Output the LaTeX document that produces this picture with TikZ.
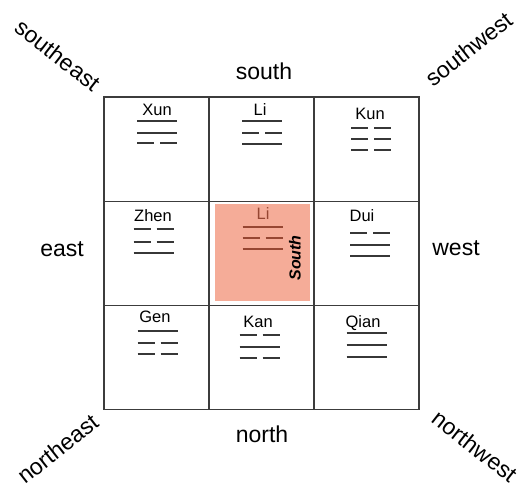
\documentclass[tikz,border=0pt]{standalone}
\usepackage{fontspec}
\setmainfont{Liberation Sans}
\definecolor{pinkfill}{RGB}{245,172,152}
\definecolor{liline}{RGB}{150,70,50}
\definecolor{barcol}{RGB}{55,55,55}
\definecolor{gridcol}{RGB}{60,60,60}
\newcommand\solidbar[2]{\draw[bar] (#1-20,#2) -- (#1+20,#2);}
\newcommand\brokenbar[2]{\draw[bar] (#1-20,#2) -- (#1-3,#2) (#1+3,#2) -- (#1+20,#2);}
\begin{document}
\begin{tikzpicture}[x=1pt,y=-1pt,
  cell/.style={draw=gridcol,line width=1.1pt,minimum width=105pt,minimum height=104.3pt,inner sep=0pt},
  dirlabel/.style={font=\fontsize{23}{23}\selectfont,inner sep=0pt},
  triglabel/.style={font=\fontsize{16.5}{16.5}\selectfont,anchor=base,inner sep=0pt},
  bar/.style={draw=barcol,line width=1.2pt}]
\useasboundingbox (0,0) rectangle (525,489);
% grid cells
\node[cell] (c11) at (156.5,149.15) {};
\node[cell] (c12) at (261.5,149.15) {};
\node[cell] (c13) at (366.5,149.15) {};
\node[cell] (c21) at (156.5,253.45) {};
\node[cell] (c22) at (261.5,253.45) {};
\node[cell] (c23) at (366.5,253.45) {};
\node[cell] (c31) at (156.5,357.75) {};
\node[cell] (c32) at (261.5,357.75) {};
\node[cell] (c33) at (366.5,357.75) {};
% centre highlight
\node[fill=pinkfill,minimum width=95pt,minimum height=97pt,inner sep=0pt] (hl) at (262.5,252.5) {};
% direction labels
\node[dirlabel,anchor=base] (south) at (264,80) {south};
\node[dirlabel,anchor=base] (north) at (262,442) {north};
\node[dirlabel,anchor=base] (east) at (62,257) {east};
\node[dirlabel,anchor=base] (west) at (456,256) {west};
\node[dirlabel,rotate=-38] (se) at (58,55) {southeast};
\node[dirlabel,rotate=38] (sw) at (469,49) {southwest};
\node[dirlabel,rotate=38] (ne) at (58,449) {northeast};
\node[dirlabel,rotate=-38] (nw) at (475,446) {northwest};
% trigram labels
\node[triglabel] (xun) at (157,116) {Xun};
\node[triglabel] (lit) at (260,116) {Li};
\node[triglabel] (kun) at (370,120) {Kun};
\node[triglabel] (zhen) at (153,222) {Zhen};
\node[triglabel,text=liline] (lic) at (263,220) {Li};
\node[triglabel] (dui) at (362,222) {Dui};
\node[triglabel] (gen) at (155,323) {Gen};
\node[triglabel] (kan) at (258,327) {Kan};
\node[triglabel] (qian) at (363,327) {Qian};
\node[font=\fontsize{16}{16}\selectfont\bfseries\itshape,rotate=90,inner sep=0pt] (southlbl) at (295,258) {South};
% trigram bars
\solidbar{157}{121} \solidbar{157}{133} \brokenbar{157}{143}
\solidbar{262}{121} \brokenbar{262}{133} \solidbar{262}{144}
\brokenbar{371}{128} \brokenbar{371}{139} \brokenbar{371}{150}
\brokenbar{153.5}{229} \brokenbar{153.5}{242} \solidbar{153.5}{253}
\begin{scope}[bar/.append style={draw=liline}]
\solidbar{262.5}{227} \brokenbar{262.5}{238} \solidbar{262.5}{249}
\end{scope}
\brokenbar{370}{233} \solidbar{370}{245} \solidbar{370}{256}
\solidbar{157.5}{331} \brokenbar{157.5}{343} \brokenbar{157.5}{354}
\brokenbar{259.5}{335} \solidbar{259.5}{347} \brokenbar{259.5}{358}
\solidbar{366.5}{333} \solidbar{366.5}{345} \solidbar{366.5}{357}
\end{tikzpicture}
\end{document}
